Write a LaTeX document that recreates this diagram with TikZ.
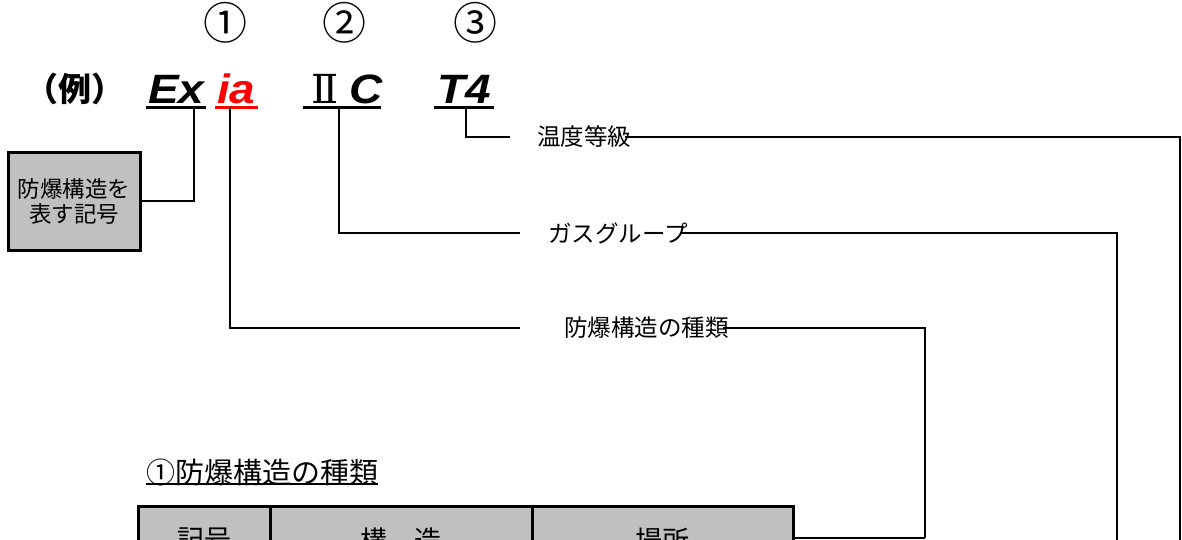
\documentclass[tikz,border=0pt]{standalone}
\usepackage{fontspec}
\usepackage{graphicx}
\newfontfamily\jp{Noto Sans CJK JP}
\newfontfamily\arial{Liberation Sans}
\newfontfamily\dvserif{DejaVu Serif}
\definecolor{boxgray}{HTML}{C0C0C0}
\definecolor{codered}{HTML}{FF0000}
\tikzset{
  conn/.style={line width=1.5pt, black},
  uline/.style={line width=3pt},
  lbl/.style={font=\jp\fontsize{23.5}{23.5}\selectfont, inner sep=0pt, anchor=west},
  code/.style={font=\arial\bfseries\itshape\fontsize{41}{41}\selectfont, inner sep=0pt, anchor=base west},
  circnum/.style={font=\jp\fontsize{44}{44}\selectfont, inner sep=0pt},
  cell/.style={draw, line width=3pt, fill=boxgray, minimum height=68pt, inner sep=0pt,
    font=\jp\fontsize{27}{27}\selectfont},
}
\begin{document}
\begin{tikzpicture}[x=1pt,y=-1pt]
\useasboundingbox (0,0) rectangle (1182,539);
\clip (0,0) rectangle (1182,539);

% circled numbers
\node[circnum] (n1) at (225,23) {①};
\node[circnum] (n2) at (344,23) {②};
\node[circnum] (n3) at (475,23) {③};

% (例)
\node[font=\jp\bfseries\fontsize{33}{33}\selectfont, inner sep=0pt] (rei) at (75,89) {（例）};

% code letters
\node[code] (ex) at (148,103) {\scalebox{1.12}[1]{Ex}};
\node[code, text=codered] (ia) at (217,103) {\scalebox{1.12}[1]{ia}};
\node[font=\dvserif\fontsize{40}{40}\selectfont, inner sep=0pt, anchor=base west] (two) at (311,103) {Ⅱ};
\node[code] (cc) at (349,103) {\scalebox{1.12}[1]{C}};
\node[code] (t4) at (437,103) {\scalebox{1.12}[1]{T4}};

% underlines
\draw[uline] (146,107) -- (206,107);
\draw[uline, codered] (215,107) -- (258,107);
\draw[uline] (303,107) -- (381,107);
\draw[uline] (434,107) -- (494,107);

\coordinate (exU) at (194,107);
\coordinate (iaU) at (230,107);
\coordinate (cU) at (339,107);
\coordinate (tU) at (466,107);

% box
\node[draw, line width=3pt, fill=boxgray, minimum width=132pt, minimum height=98pt,
  align=center, inner sep=0pt, font=\jp\fontsize{22.5}{25}\selectfont] (box) at (74,201)
  {防爆構造を\\表す記号};
\draw[conn] (exU) |- (box.east);

% labels
\node[lbl] (lt) at (537,137) {温度等級};
\node[lbl] (lg) at (548,233) {ガスグループ};
\node[lbl] (lk) at (564,328) {防爆構造の種類};

\coordinate (tL) at (510,137);
\coordinate (gL) at (520,233);
\coordinate (kL) at (520,328);
\coordinate (tR) at (1180,545);
\coordinate (gR) at (1117,545);
\coordinate (kR) at (925,538);

\draw[conn] (tU) |- (tL);
\draw[conn] (cU) |- (gL);
\draw[conn] (iaU) |- (kL);

\draw[conn] ([xshift=-6pt]lt.east) -| (tR);
\draw[conn] ([xshift=-8pt]lg.east) -| (gR);
\draw[conn] ([xshift=-6pt]lk.east) -| (kR);

% table title
\node[font=\jp\fontsize{29}{29}\selectfont, inner sep=0pt, anchor=south west] (title) at (146,486) {①防爆構造の種類};
\draw[line width=1.2pt] ([yshift=2pt]title.south west) -- ([yshift=2pt]title.south east);

% table header
\node[cell, minimum width=132pt] (c1) at (204,540) {記号};
\node[cell, minimum width=262pt] (c2) at (401,540) {構　造};
\node[cell, minimum width=261pt] (c3) at (662.5,540) {場所};
\draw[conn] (kR) -- (kR -| c3.east);
\end{tikzpicture}
\end{document}
